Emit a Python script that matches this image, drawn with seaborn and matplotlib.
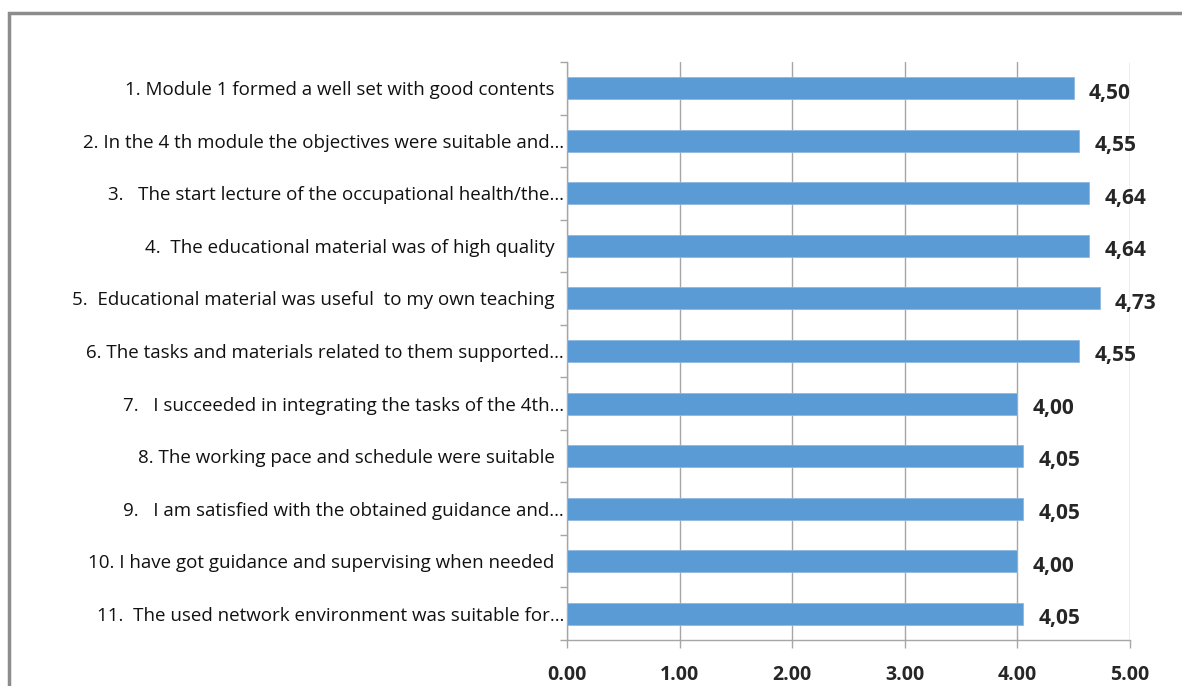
import pandas as pd
import matplotlib.pyplot as plt
import seaborn as sns
from matplotlib.patches import Rectangle
from matplotlib.ticker import FixedLocator

questions = [
    '1. Module 1 formed a well set with good contents  ',
    '2. In the 4 th module the objectives were suitable and…',
    '3.   The start lecture of the occupational health/the…',
    '4.  The educational material was of high quality  ',
    '5.  Educational material was useful  to my own teaching  ',
    '6. The tasks and materials related to them supported…',
    '7.   I succeeded in integrating the tasks of the 4th…',
    '8. The working pace and schedule were suitable  ',
    '9.   I am satisfied with the obtained guidance and…',
    '10. I have got guidance and supervising when needed  ',
    '11.  The used network environment was suitable for…',
]
scores = [4.50, 4.55, 4.64, 4.64, 4.73, 4.55, 4.00, 4.05, 4.05, 4.00, 4.05]
score_labels = ['4,50', '4,55', '4,64', '4,64', '4,73', '4,55', '4,00', '4,05', '4,05', '4,00', '4,05']
x_ticks = [0, 1, 2, 3, 4, 5]
x_tick_labels = ['0.00', '1.00', '2.00', '3.00', '4.00', '5.00']

df = pd.DataFrame({'Question': questions, 'Score': scores})

sns.set_style('white')
plt.rcParams['font.family'] = ['Open Sans', 'DejaVu Sans']

fig = plt.figure(figsize=(11.82, 6.86), dpi=100)
ax = fig.add_axes([567 / 1182, 46 / 686, 563 / 1182, 578 / 686])

sns.barplot(data=df, x='Score', y='Question', orient='h', color='#5B9BD5',
            saturation=1, width=0.42, edgecolor='#8DB8E2', linewidth=0.6,
            ax=ax, zorder=3)

ax.set_xlim(0, 5)
ax.set_ylim(10.5, -0.5)
ax.set_xticks(x_ticks)
ax.set_xticklabels(x_tick_labels, fontsize=14, fontweight='bold')
ax.xaxis.grid(True, color='#A6A6A6', linewidth=1, zorder=0)
ax.set_xlabel('')
ax.set_ylabel('')

ax.yaxis.set_minor_locator(FixedLocator([i - 0.5 for i in range(12)]))
ax.tick_params(axis='y', which='major', length=0, pad=2, labelsize=13.5, labelcolor='#111111')
ax.tick_params(axis='y', which='minor', length=5, width=1, color='#A6A6A6', direction='out', left=True)
ax.tick_params(axis='x', which='major', length=6, width=1, color='#A6A6A6', direction='out', bottom=True, pad=12)

for side in ['top', 'right']:
    ax.spines[side].set_visible(False)
for side in ['left', 'bottom']:
    ax.spines[side].set_color('#A6A6A6')
    ax.spines[side].set_linewidth(1)

for i, (v, lab) in enumerate(zip(scores, score_labels)):
    ax.annotate(lab, xy=(v, i), xytext=(11, -3.5), textcoords='offset points',
                ha='left', va='center', fontsize=15, fontweight='bold')

fig.patches.append(Rectangle((9 / 1182, -0.2), 2, 1.2 - 13 / 686, transform=fig.transFigure,
                             fill=False, edgecolor='#8C8C8C', linewidth=2.5))

plt.savefig('out.png', dpi=100)
